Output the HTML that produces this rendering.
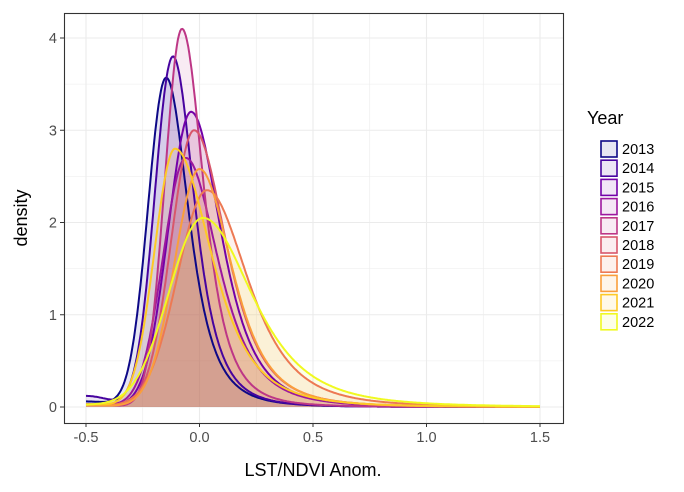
<!DOCTYPE html>
<html><head><meta charset="utf-8"><style>
body{margin:0;background:#fff}
svg{display:block;font-family:"Liberation Sans",Arial,sans-serif}
</style></head><body>
<svg id="s" width="684" height="492" xmlns="http://www.w3.org/2000/svg">
<rect width="684" height="492" fill="#fff"/>
<g id="grid"></g>
<g id="curves"></g>
<rect x="64.5" y="13.5" width="499" height="410" fill="none" stroke="#333" stroke-width="1.1"/>
<g id="axes" fill="#4d4d4d" font-size="14.5"></g>
<text x="313" y="476" text-anchor="middle" font-size="18" fill="#000">LST/NDVI Anom.</text>
<text transform="translate(27,218) rotate(-90)" text-anchor="middle" font-size="18" fill="#000">density</text>
<text x="587" y="124" font-size="18" fill="#000">Year</text>
<g id="legend" font-size="14.5" fill="#000"></g>
</svg>
<script>
const NS="http://www.w3.org/2000/svg";
const X=v=>199.5+v*227, Y=v=>407-v*92.25;
function el(p,t,a,txt){const e=document.createElementNS(NS,t);for(const k in a)e.setAttribute(k,a[k]);if(txt!=null)e.textContent=txt;document.getElementById(p).appendChild(e);return e;}
for(let v=-0.75;v<=1.75;v+=0.25){const x=X(v);if(x<64||x>563)continue;const maj=Math.abs(v*2-Math.round(v*2))<1e-6;
el("grid","line",{x1:x,x2:x,y1:13,y2:423,stroke:"#ebebeb","stroke-width":maj?1.1:0.55});}
for(let v=0;v<=4.5;v+=0.5){const y=Y(v);if(y<13)continue;const maj=Number.isInteger(v);
el("grid","line",{x1:64,x2:563,y1:y,y2:y,stroke:"#ebebeb","stroke-width":maj?1.1:0.55});}
[-0.5,0,0.5,1,1.5].forEach(v=>{el("axes","line",{x1:X(v),x2:X(v),y1:423,y2:427,stroke:"#333"});el("axes","text",{x:X(v),y:442,"text-anchor":"middle"},v===0?"0.0":v.toFixed(1));});
[0,1,2,3,4].forEach(v=>{el("axes","line",{x1:60,x2:64,y1:Y(v),y2:Y(v),stroke:"#333"});el("axes","text",{x:57,y:Y(v)+5,"text-anchor":"end"},v);});
const cols=["#0D0887","#47039F","#7301A8","#9C179E","#BD3786","#D8576B","#ED7953","#FA9E3B","#FDC926","#F0F921"];
// m, h, sl, sr, base
const P=[[-0.147,3.57,0.08,0.105,0.06],[-0.117,3.8,0.08,0.1,0.12],[-0.037,3.2,0.1,0.14,0.03],[-0.06,2.7,0.1,0.15,0.03],[-0.077,4.1,0.075,0.1,0.03],
[-0.024,3.0,0.1,0.15,0.03],[0.033,2.35,0.13,0.19,0.02],[0.0,2.58,0.11,0.15,0.02],[-0.108,2.8,0.09,0.17,0.03],[0.015,2.05,0.15,0.23,0.02]];
const years=[2013,2014,2015,2016,2017,2018,2019,2020,2021,2022];
function f(p,x){const[m,h,sl,sr,b]=p;let d;
 if(x<m){const z=(x-m)/sl;d=h*Math.exp(-z*z/2);d+=b*Math.exp(-Math.pow((x+0.5)/0.15,2));}
 else{const z=(x-m)/sr;d=h*Math.pow(1+z*z/3,-2);}
 return d;}
P.forEach((p,i)=>{let pts=[];for(let x=-0.5;x<=1.5001;x+=0.005)pts.push([X(x),Y(f(p,x))]);
const line="M"+pts.map(q=>q[0].toFixed(1)+","+q[1].toFixed(1)).join("L");
el("curves","path",{d:line+"L"+X(1.5)+","+Y(0)+"L"+X(-0.5)+","+Y(0)+"Z",fill:cols[i],"fill-opacity":0.1,stroke:"none"});
});
P.forEach((p,i)=>{let pts=[];for(let x=-0.5;x<=1.5001;x+=0.005)pts.push([X(x),Y(f(p,x))]);
el("curves","path",{d:"M"+pts.map(q=>q[0].toFixed(1)+","+q[1].toFixed(1)).join("L"),fill:"none",stroke:cols[i],"stroke-width":2});});
years.forEach((y,i)=>{const yy=141+i*19.2;
el("legend","rect",{x:601,y:yy,width:16,height:16,fill:cols[i],"fill-opacity":0.1,stroke:cols[i],"stroke-width":1.6});
el("legend","text",{x:622,y:yy+13},y);});
</script>
</body></html>
